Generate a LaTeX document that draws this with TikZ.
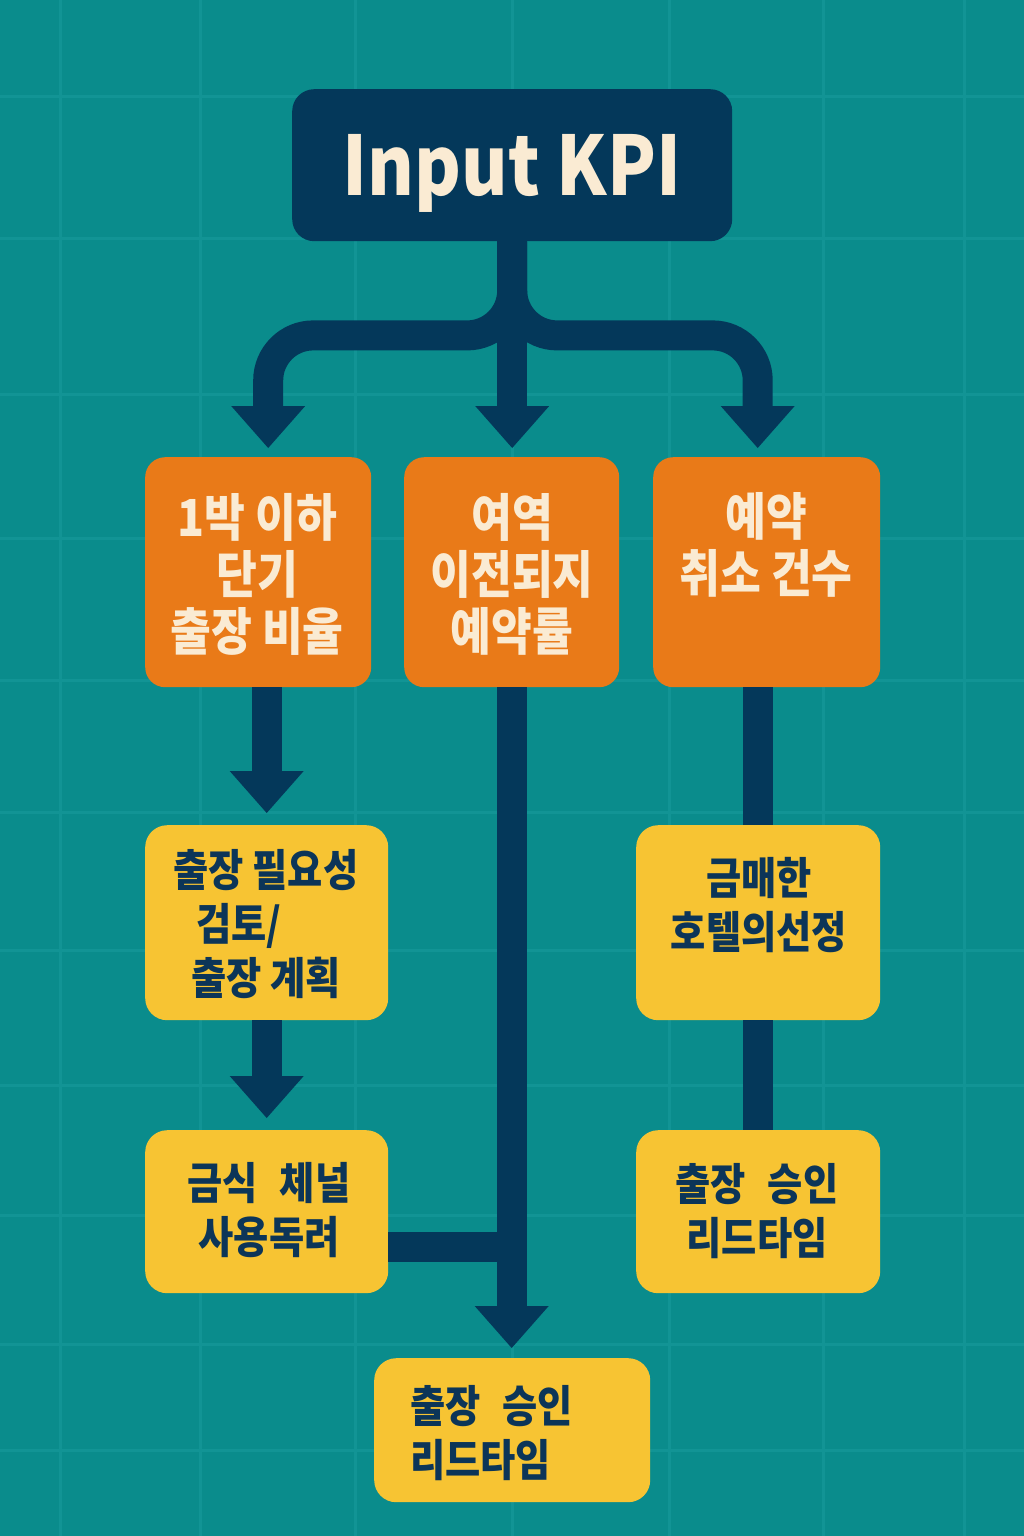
\documentclass[tikz,border=0pt]{standalone}
\usepackage{fontspec}
\newfontfamily\kr{Noto Sans CJK KR}[FakeStretch=0.87]
\newcommand\ws{\hspace{22pt}}
\usetikzlibrary{arrows.meta}
\definecolor{bgteal}{HTML}{0A8C8C}
\definecolor{gridteal}{HTML}{129495}
\definecolor{navy}{HTML}{04385A}
\definecolor{orangebox}{HTML}{E97A18}
\definecolor{yellowbox}{HTML}{F7C433}
\definecolor{cream}{HTML}{FAEBD3}
\definecolor{navytext}{HTML}{0C3558}
\begin{document}
\begin{tikzpicture}[x=1pt,y=-1pt,
  obox/.style={fill=orangebox, rounded corners=20pt, inner sep=0pt, anchor=north west},
  ybox/.style={fill=yellowbox, rounded corners=22pt, inner sep=0pt, anchor=north west},
  otext/.style={align=center, inner sep=0pt, text=cream, font=\kr\bfseries\fontsize{51}{57}\selectfont},
  ytext/.style={align=center, inner sep=0pt, text=navytext, font=\kr\bfseries\fontsize{44}{54}\selectfont},
  conn/.style={draw=navy, line width=30pt},
  tipped/.style={-{Triangle[width=74pt,length=42pt,line width=0pt]}}
]
\useasboundingbox (0,0) rectangle (1024,1536);
\fill[bgteal] (0,0) rectangle (1024,1536);
% faint grid
\foreach \gx in {60,200,355,512,669,823,964}
  \draw[gridteal, line width=3pt] (\gx,0) -- (\gx,1536);
\foreach \gy in {97,238,394,538,680,812,950,1085,1215,1344,1450}
  \draw[gridteal, line width=3pt] (0,\gy) -- (1024,\gy);

% title box
\node[fill=navy, rounded corners=22pt, inner sep=0pt, anchor=north west,
      minimum width=440pt, minimum height=152pt] (K) at (292,89) {};
\node[text=cream, inner sep=0pt, anchor=base, font=\kr\bfseries\fontsize{82}{90}\selectfont]
      (Kt) at (512,195) {Input KPI};

% orange boxes
\node[obox, minimum width=226pt, minimum height=230pt] (A) at (145,457) {};
\node[obox, minimum width=215pt, minimum height=230pt] (B) at (404,457) {};
\node[obox, minimum width=227pt, minimum height=230pt] (C) at (653,457) {};

% yellow boxes
\node[ybox, minimum width=243pt, minimum height=195pt] (D) at (145,825) {};
\node[ybox, minimum width=244pt, minimum height=195pt] (E) at (636,825) {};
\node[ybox, minimum width=243pt, minimum height=163pt] (F) at (145,1130) {};
\node[ybox, minimum width=244pt, minimum height=163pt] (H) at (636,1130) {};
\node[ybox, minimum width=276pt, minimum height=144pt] (G) at (374,1358) {};

% connectors
\draw[conn, rounded corners=45pt, tipped, shorten >=9pt]
  (K.south) -- ++(0,94) -| ([xshift=10pt]A.north);
\draw[conn, rounded corners=45pt, tipped, shorten >=9pt]
  (K.south) -- ++(0,94) -| ([xshift=-9pt]C.north);
\draw[conn, tipped, shorten >=9pt] (K.south) -- (K.south |- B.north);
\draw[conn, tipped, shorten >=12pt] (D.north |- A.south) -- (D.north);
\draw[conn, tipped, shorten >=10pt] (B.south) -- (B.south |- G.north);
\draw[conn] (E.north |- C.south) -- (E.north);
\draw[conn] (E.south) -- (H.north);
\draw[conn, tipped, shorten >=12pt] (D.south) -- (F.north);
\draw[conn] ([yshift=-35.5pt]F.east) -- ([yshift=-35.5pt]F.east -| B.south);

% texts
\node[otext] (At) at (257,574) {1박 이하\\단기\\출장 비율};
\node[otext] (Bt) at (512,574) {여역\\이전되지\\예약률};
\node[otext] (Ct) at (766,545) {예약\\취소 건수};
\node[ytext] (Dt) at (266,924) {출장 필요성\\\makebox[140pt][l]{검토/}\\출장 계획};
\node[ytext] (Et) at (759,905) {금매한\\호텔의선정};
\node[ytext] (Ft) at (269,1210) {금식\ws 체널\\사용독려};
\node[ytext] (Ht) at (757,1211) {출장\ws 승인\\리드타임};
\node[ytext, align=left, anchor=west] (Gt) at (410,1433) {출장\ws 승인\\리드타임};
\end{tikzpicture}
\end{document}
